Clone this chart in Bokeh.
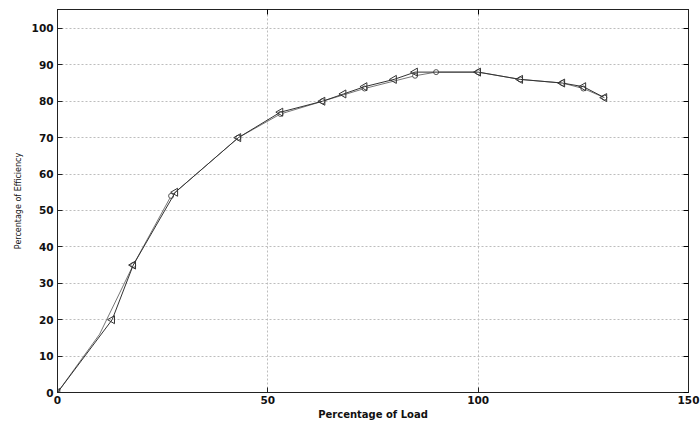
import math
from bokeh.plotting import figure
from bokeh.models import LinearAxis, Range1d, FixedTicker
from bokeh.embed import file_html
from bokeh.resources import INLINE

# Series A (left-pointing triangle markers)
load_a = [0, 13, 18, 28, 43, 53, 63, 68, 73, 80, 85, 100, 110, 120, 125, 130]
eff_a = [0, 20, 35, 55, 70, 77, 80, 82, 84, 86, 88, 88, 86, 85, 84, 81]

# Series B (smooth curve, circle markers)
load_b = [0, 10, 18, 27, 43, 53, 63, 73, 85, 90, 100, 110, 120, 125, 130]
eff_b = [0, 16, 35, 54, 70, 76.5, 80, 83.5, 87, 88, 88, 86, 85, 83.5, 81]

x_ticks = [0, 50, 100, 150]
y_ticks = [0, 10, 20, 30, 40, 50, 60, 70, 80, 90, 100]

FONT = "DejaVu Sans"

p = figure(width=700, height=423, output_backend="svg", toolbar_location=None,
           x_range=Range1d(0, 150), y_range=Range1d(0, 105.2),
           min_border_left=57, min_border_right=12, min_border_top=9, min_border_bottom=31)
p.background_fill_color = "white"
p.border_fill_color = "white"
p.outline_line_color = "#222222"
p.outline_line_width = 1

for ax in [p.xaxis[0], p.yaxis[0]]:
    ax.major_tick_in = 5
    ax.major_tick_out = 0
    ax.minor_tick_line_color = None
    ax.axis_line_color = "#222222"
    ax.major_tick_line_color = "#222222"
    ax.major_label_text_font = FONT
    ax.major_label_text_font_style = "bold"
    ax.major_label_text_font_size = "10.5px"
    ax.major_label_text_color = "#111111"
    ax.axis_label_text_font = FONT
    ax.axis_label_text_color = "#111111"

p.xaxis[0].ticker = FixedTicker(ticks=x_ticks)
p.yaxis[0].ticker = FixedTicker(ticks=y_ticks)
p.xaxis[0].axis_label = "Percentage of Load"
p.xaxis[0].axis_label_text_font_size = "10px"
p.xaxis[0].axis_label_text_font_style = "bold"
p.xaxis[0].axis_label_standoff = 2
p.xaxis[0].major_label_standoff = 3
p.yaxis[0].axis_label = "Percentage of Efficiency"
p.yaxis[0].axis_label_text_font_size = "8px"
p.yaxis[0].axis_label_text_font_style = "normal"
p.yaxis[0].axis_label_standoff = 6
p.yaxis[0].major_label_standoff = 4

right = LinearAxis(ticker=FixedTicker(ticks=y_ticks),
                   major_label_overrides={t: "" for t in y_ticks},
                   major_tick_in=5, major_tick_out=0, minor_tick_line_color=None,
                   axis_line_color="#222222")
top = LinearAxis(ticker=FixedTicker(ticks=x_ticks),
                 major_label_overrides={t: "" for t in x_ticks},
                 major_tick_in=5, major_tick_out=0, minor_tick_line_color=None,
                 axis_line_color="#222222")
p.add_layout(right, "right")
p.add_layout(top, "above")

p.xgrid.ticker = FixedTicker(ticks=x_ticks)
p.ygrid.ticker = FixedTicker(ticks=y_ticks)
for g in [p.xgrid[0], p.ygrid[0]]:
    g.grid_line_color = "#bdbdbd"
    g.grid_line_dash = "2 2"
    g.grid_line_width = 1

p.line(load_b, eff_b, line_color="#777777", line_width=1)
p.scatter(load_b[2:], eff_b[2:], marker="circle", size=5, fill_color="white",
          line_color="#555555", line_width=1)

p.line(load_a, eff_a, line_color="#333333", line_width=1)
p.scatter(load_a, eff_a, marker="triangle", angle=math.pi / 2, size=8,
          fill_color="white", fill_alpha=0.0, line_color="#333333", line_width=1)

open("out.html", "w").write(file_html(p, INLINE))
